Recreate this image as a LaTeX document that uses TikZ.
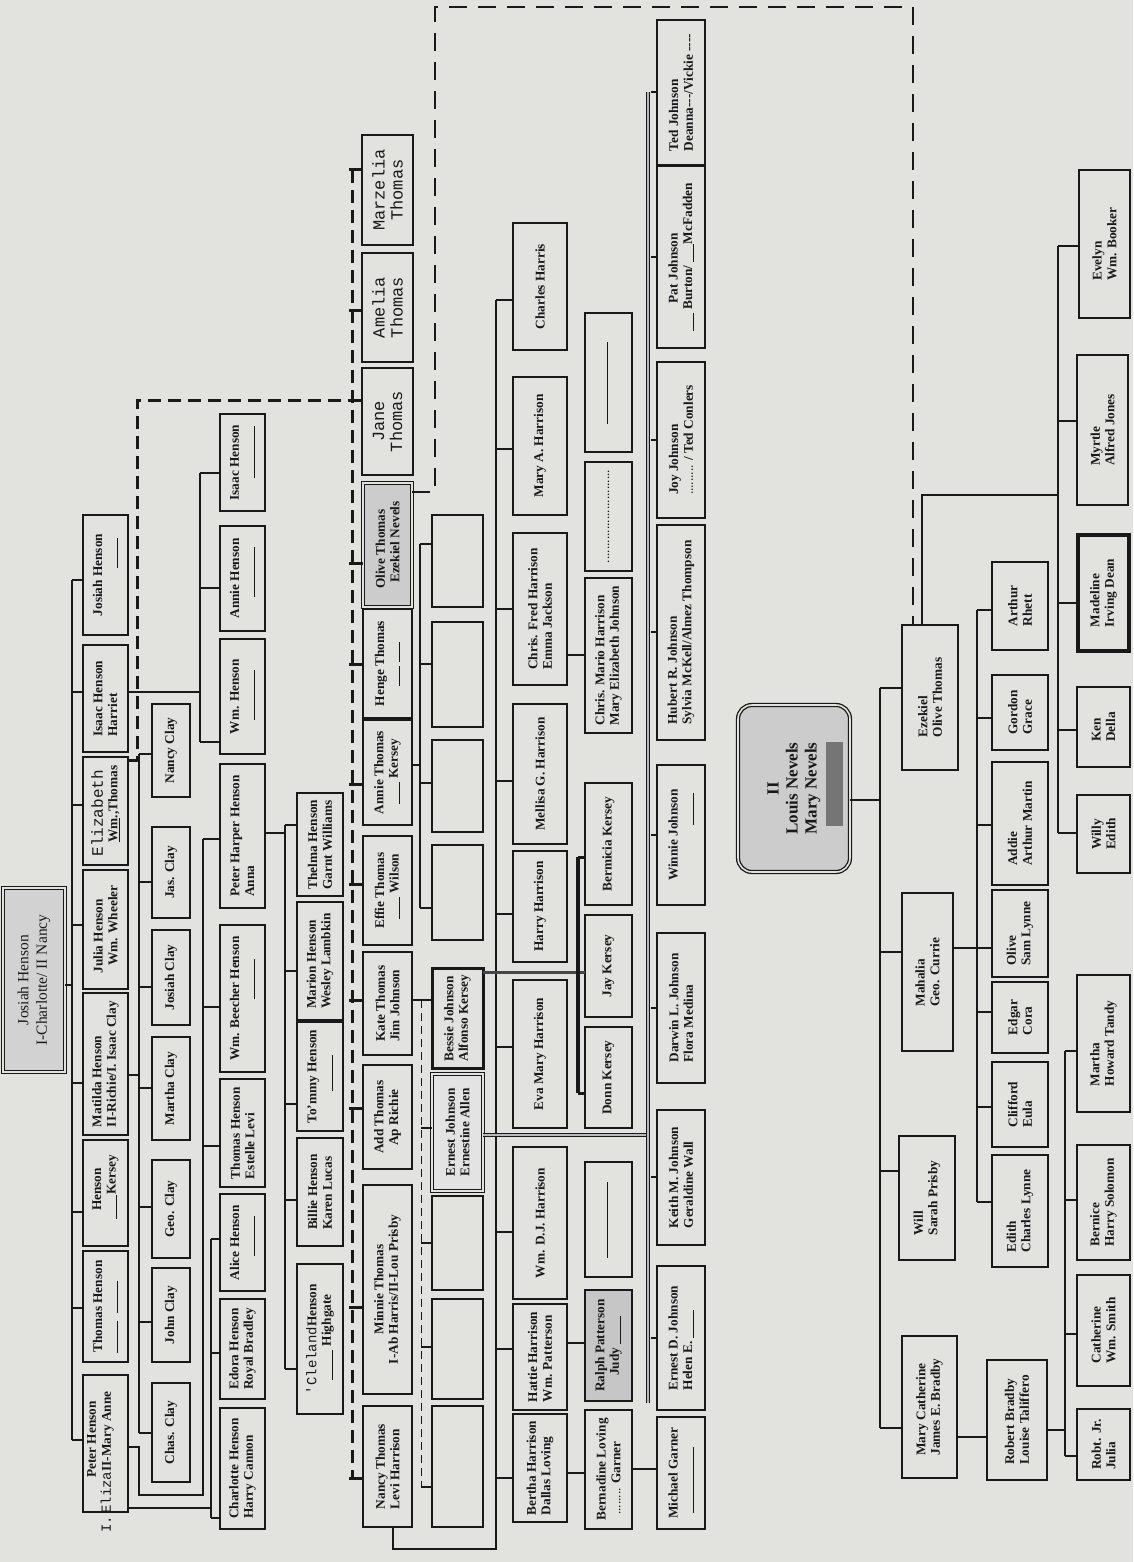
\documentclass[tikz,border=0pt]{standalone}
\usepackage{fontspec}
\setmainfont{Liberation Serif}
\setmonofont{Liberation Mono}
\definecolor{paper}{RGB}{226,227,223}
\definecolor{ink}{RGB}{25,25,25}
\newcommand{\blnk}[1][28pt]{\rule[-1.5pt]{#1}{0.9pt}}
\newcommand{\twr}[2][14]{{\ttfamily\mdseries\fontsize{#1}{#1}\selectfont #2}}
\newcommand{\bx}[7][]{%
  \pgfmathsetmacro{\bxw}{#6-#4}\pgfmathsetmacro{\bxh}{#5-#3}%
  \pgfmathsetmacro{\bxcx}{(#3+#5)/2}\pgfmathsetmacro{\bxcy}{(#4+#6)/2}%
  \node[box,#1,minimum width=\bxw pt,minimum height=\bxh pt] (#2) at (\bxcx,\bxcy) {#7};}
\begin{document}
\begin{tikzpicture}[x=1pt,y=-1pt,
  box/.style={draw=ink, line width=1.2pt, rotate=90, inner sep=1.5pt, outer sep=0pt, align=left, text=ink, font=\fontsize{13.3}{14.6}\selectfont\bfseries},
  ctr/.style={align=center},
  mono/.style={align=center, font=\ttfamily\fontsize{17}{18}\selectfont},
  dblbox/.style={double=paper, double distance=1.6pt, line width=0.9pt},
  heavy/.style={line width=3pt},
  ln/.style={draw=ink, line width=1.1pt},
  thickdash/.style={draw=ink, line width=3pt, dash pattern=on 13pt off 7pt},
  tstub/.style={draw=ink, line width=3pt},
  thindash/.style={draw=ink, line width=1.3pt, dash pattern=on 18pt off 11pt},
  kdash/.style={draw=ink, line width=1pt, dash pattern=on 8pt off 5pt},
  dblline/.style={draw=ink, line width=1.1pt, double=gray!55, double distance=2pt}]
\fill[paper] (0,0) rectangle (1133,1562);
\useasboundingbox (0,0) rectangle (1133,1562);

% ---------- root and generation 1
\bx[dblbox, fill=gray!35, ctr, font=\fontsize{15.5}{18.5}\selectfont]{root}{3}{888}{65}{1072}{Josiah Henson\\I-Charlotte/ II Nancy}
\bx{josiahH}{83}{515}{128}{635}{Josiah Henson\\\hspace*{48pt}\blnk[30pt]}
\bx{isaacH}{83}{645}{128}{752}{Isaac Henson\\Harriet}
\bx{eliz}{83}{757}{128}{865}{\twr[16]{Elizabeth}\\\hspace*{14pt}\underline{Wm}.,Thomas}
\bx{julia}{83}{870}{128}{989}{Julia Henson\\\hspace*{8pt}Wm. Wheeler}
\bx{matilda}{83}{993}{128}{1135}{Matilda Henson\\II-Richie/I. Isaac Clay}
\bx{hensonK}{83}{1140}{128}{1246}{\hspace*{20pt}Henson\\\hspace*{12pt}\blnk[24pt]Kersey}
\bx{thomasH}{83}{1251}{128}{1362}{Thomas Henson\\\blnk[32pt]\hspace*{8pt}\blnk[32pt]}
\bx{peter}{83}{1375}{128}{1512}{}
\node[rotate=90, anchor=north west, align=left, inner sep=0pt, text=ink, font=\fontsize{13.3}{15}\selectfont\bfseries] (petertxt) at (87,1533) {\hspace*{55pt}Peter Henson\\\twr[14]{I.\,Eliza}II-Mary Anne};

% ---------- Clays
\bx[ctr]{chas}{152}{1383}{190}{1482}{Chas. Clay}
\bx[ctr]{john}{152}{1268}{190}{1362}{John Clay}
\bx[ctr]{geo}{152}{1160}{190}{1258}{Geo. Clay}
\bx[ctr]{martha}{152}{1037}{190}{1140}{Martha Clay}
\bx[ctr]{josiahC}{152}{930}{190}{1025}{Josiah Clay}
\bx[ctr]{jas}{152}{827}{190}{918}{Jas. Clay}
\bx[ctr]{nancyC}{152}{704}{190}{797}{Nancy Clay}

% ---------- Hensons gen 2
\bx{charlotte}{220}{1408}{265}{1529}{Charlotte Henson\\Harry Cannon}
\bx{edora}{220}{1299}{265}{1399}{Edora Henson\\Royal Bradley}
\bx{alice}{220}{1194}{265}{1291}{Alice Henson\\\hspace*{24pt}\blnk[40pt]}
\bx{thomasE}{220}{1079}{265}{1187}{Thomas Henson\\Estelle Levi}
\bx{beecher}{220}{925}{265}{1072}{Wm. Beecher Henson\\\hspace*{62pt}\blnk[40pt]}
\bx{pharper}{220}{764}{265}{908}{Peter Harper Henson\\Anna}
\bx{wmH}{220}{639}{265}{754}{Wm. Henson\\\hspace*{14pt}\blnk[50pt]}
\bx{annieH}{220}{526}{265}{631}{Annie Henson\\\hspace*{22pt}\blnk[50pt]}
\bx{isaacHb}{220}{414}{265}{511}{Isaac Henson\\\hspace*{22pt}\blnk[52pt]}

% ---------- Peter Harper's children
\bx{thelma}{297}{793}{343}{896}{Thelma Henson\\Garnt Williams}
\bx{marion}{297}{902}{343}{1020}{Marion Henson\\Wesley Lambkin}
\bx{tommy}{297}{1022}{343}{1131}{To'mmy Henson\\\hspace*{32pt}\blnk[36pt]}
\bx{billie}{297}{1138}{343}{1246}{Billie Henson\\Karen Lucas}
\bx{cleland}{297}{1264}{343}{1414}{\twr[14]{'Cleland}Henson\\\hspace*{14pt}\blnk[30pt]\hspace*{4pt}Highgate}

% ---------- Thomas family
\bx[mono]{marz}{362}{135}{413}{245}{Marzelia\\Thomas}
\bx[mono]{amelia}{362}{253}{413}{362}{Amelia\\Thomas}
\bx[mono]{jane}{362}{368}{413}{475}{Jane\\Thomas}
\bx[dblbox, line width=1.3pt, fill=gray!40]{oliveT}{363}{483}{412}{607}{Olive Thomas\\\hspace*{6pt}Ezekiel Nevels}
\bx{henge}{363}{609}{412}{718}{Henge Thomas\\\hspace*{20pt}\blnk[20pt]\hspace*{4pt}\blnk[20pt]}
\bx{annieT}{363}{720}{412}{825}{Annie Thomas\\\hspace*{10pt}\blnk[22pt] Kersey}
\bx{effie}{363}{836}{412}{945}{Effie Thomas\\\hspace*{10pt}\blnk[22pt] Wilson}
\bx{kate}{363}{952}{412}{1055}{Kate Thomas\\Jim Johnson}
\bx{add}{363}{1065}{412}{1169}{Add Thomas\\\hspace*{8pt}Ap Richie}
\bx[ctr]{minnie}{363}{1185}{412}{1394}{Minnie Thomas\\I-Ab Harris/II-Lou Prisby}
\bx{nancyT}{363}{1406}{412}{1527}{Nancy Thomas\\Levi Harrison}

% ---------- column G
\bx{ea}{432}{515}{483}{607}{}
\bx{eb}{432}{622}{483}{727}{}
\bx{ec}{432}{740}{483}{832}{}
\bx{ed}{432}{845}{483}{940}{}
\bx[heavy]{bessie}{432}{968}{483}{1068}{Bessie Johnson\\Alfonso Kersey}
\bx[dblbox, fill=gray!22]{ernest}{432}{1074}{483}{1191}{Ernest Johnson\\Ernestine Allen}
\bx{ee}{432}{1196}{483}{1290}{}
\bx{ef}{432}{1299}{483}{1399}{}
\bx{eg}{432}{1406}{483}{1527}{}

% ---------- Harrisons
\bx[ctr]{charles}{513}{223}{567}{350}{Charles Harris}
\bx[ctr]{maryA}{513}{377}{567}{515}{Mary A. Harrison}
\bx{chrisF}{513}{533}{567}{685}{Chris. Fred Harrison\\Emma Jackson}
\bx[ctr]{mellisa}{513}{704}{567}{844}{Mellisa G. Harrison}
\bx[ctr]{harry}{513}{851}{567}{962}{Harry Harrison}
\bx[ctr]{eva}{513}{980}{567}{1128}{Eva Mary Harrison}
\bx[ctr]{wmdj}{513}{1147}{567}{1299}{Wm. D.J. Harrison}
\bx{hattie}{513}{1304}{567}{1410}{Hattie Harrison\\Wm. Patterson}
\bx{bertha}{513}{1414}{567}{1522}{Bertha Harrison\\Dallas Loving}

% ---------- column I
\bx[ctr]{blankA}{585}{313}{632}{452}{\rule[2pt]{82pt}{0.9pt}}
\bx[ctr]{dotted}{585}{462}{632}{571}{\mdseries ............................}
\bx{chrisM}{585}{578}{632}{733}{Chris. Mario Harrison\\Mary Elizabeth Johnson}
\bx[ctr]{bermicia}{585}{783}{632}{905}{Bermicia Kersey}
\bx[ctr]{jay}{585}{915}{632}{1017}{Jay Kersey}
\bx[ctr]{donn}{585}{1027}{632}{1128}{Donn Kersey}
\bx[ctr]{blankB}{585}{1162}{632}{1277}{\rule[2pt]{76pt}{0.9pt}}
\bx[fill=gray!45]{ralph}{585}{1290}{632}{1401}{Ralph Patterson\\\hspace*{16pt}Judy \blnk[28pt]}
\bx{bernadine}{585}{1410}{632}{1529}{Bernadine Loving\\\hspace*{6pt}\mdseries........ \bfseries Garner}

% ---------- Johnsons
\bx{ted}{657}{20}{705}{165}{Ted Johnson\\Deanna{-}{-}{-}/Vickie {-}{-}{-}{-}}
\bx{pat}{657}{166}{705}{348}{\hspace*{28pt}Pat Johnson\\\blnk[18pt] Burton/ \blnk[18pt]McFadden}
\bx{joy}{657}{362}{705}{518}{Joy Johnson\\\mdseries ......... \bfseries / Ted Conlers}
\bx{hubert}{657}{525}{705}{740}{Hubert R. Johnson\\Sylvia McKell/Almez Thompson}
\bx{winnie}{657}{765}{705}{905}{Winnie Johnson\\\hspace*{56pt}\blnk[32pt]}
\bx{darwin}{657}{933}{705}{1083}{Darwin L. Johnson\\Flora Medina}
\bx{keith}{657}{1110}{705}{1245}{Keith M. Johnson\\Geraldine Wall}
\bx{ernestD}{657}{1266}{705}{1410}{Ernest D. Johnson\\Helen E. \blnk[28pt]}
\bx{michael}{657}{1417}{705}{1529}{Michael Garner\\\hspace*{6pt}\blnk[66pt]}

% ---------- Nevels tree
\bx[dblbox, rounded corners=14pt, fill=gray!40, line width=1.3pt]{louis}{738}{705}{850}{872}{}
\fill[gray!75!black, opacity=0.8] (826,742) rectangle (843,826);
\node[rotate=90, align=center, text=ink, font=\fontsize{17}{19}\selectfont\bfseries] (louistxt) at (louis.center) {II\\Louis Nevels\\Mary Nevels};
\bx{ezek}{902}{625}{958}{770}{Ezekiel\\Olive Thomas}
\bx{mahalia}{902}{893}{953}{1051}{Mahalia\\Geo. Currie}
\bx{will}{899}{1136}{955}{1260}{Will\\Sarah Prisby}
\bx{maryC}{902}{1336}{957}{1478}{Mary Catherine\\James E. Bradby}
\bx{arthur}{992}{562}{1048}{650}{Arthur\\Rhett}
\bx{gordon}{992}{675}{1048}{750}{Gordon\\Grace}
\bx{addie}{992}{762}{1048}{885}{Addie\\Arthur Martin}
\bx{oliveS}{992}{890}{1048}{977}{Olive\\Sam Lynne}
\bx{edgar}{992}{982}{1048}{1053}{Edgar\\Cora}
\bx{clifford}{992}{1062}{1048}{1147}{Clifford\\Eula}
\bx{edith}{992}{1155}{1048}{1267}{Edith\\Charles Lynne}
\bx{robert}{987}{1360}{1047}{1480}{Robert Bradby\\Louise Taliffero}
\bx{evelyn}{1079}{170}{1130}{318}{Evelyn\\Wm. Booker}
\bx{myrtle}{1077}{355}{1128}{505}{Myrtle\\Alfred Jones}
\bx[line width=4pt]{madeline}{1078}{535}{1129}{651}{Madeline\\Irving Dean}
\bx{ken}{1077}{687}{1130}{767}{Ken\\Della}
\bx{willy}{1077}{795}{1130}{873}{Willy\\Edith}
\bx{marthaT}{1077}{975}{1130}{1112}{Martha\\Howard Tandy}
\bx{bernice}{1077}{1145}{1130}{1260}{Bernice\\Harry Solomon}
\bx{catherine}{1077}{1275}{1130}{1386}{Catherine\\Wm. Smith}
\bx{robtjr}{1077}{1409}{1130}{1480}{Robt. Jr.\\Julia}

% ================= connectors
% root -> generation 1
\draw[ln] (root.south |- 0,985) -- (72,985);
\draw[ln] (72,580) -- (72,1440);
\foreach \n/\y in {josiahH/580,isaacH/692,eliz/805,julia/925,matilda/1083,hensonK/1212,thomasH/1308,peter/1440}
  \draw[ln] (72,\y) -- (\n.north |- 0,\y);
% Matilda -> Clays
\draw[ln] (matilda.south |- 0,1075) -- (139,1075);
\draw[ln] (139,754) -- (139,1433);
\foreach \n/\y in {nancyC/754,jas/882,josiahC/987,martha/1088,geo/1207,john/1322,chas/1433}
  \draw[ln] (139,\y) -- (\n.north |- 0,\y);
% Peter (II) -> Thomas, Beecher, Peter Harper
\draw[ln] (peter.south |- 0,1447) -- (139,1447) -- (139,1495) -- (203,1495) -- (203,839);
\foreach \n/\y in {pharper/839,beecher/1007,thomasE/1146}
  \draw[ln] (203,\y) -- (\n.north |- 0,\y);
% Peter (I) -> Charlotte, Edora, Alice
\draw[ln] (peter.south |- 0,1508) -- (211,1508);
\draw[ln] (211,1239) -- (211,1518);
\foreach \n/\y in {alice/1239,edora/1353,charlotte/1518}
  \draw[ln] (211,\y) -- (\n.north |- 0,\y);
% Isaac / Harriet
\draw[ln] (isaacH.south |- 0,692) -- (200,692);
\draw[ln] (200,473) -- (200,742);
\foreach \n/\y in {isaacHb/473,annieH/588,wmH/742}
  \draw[ln] (200,\y) -- (\n.north |- 0,\y);
% Peter Harper
\draw[ln] (pharper.south |- 0,833) -- (285,833);
\draw[ln] (285,825) -- (285,1369);
\foreach \n/\y in {thelma/825,marion/971,tommy/1104,billie/1200,cleland/1369}
  \draw[ln] (285,\y) -- (\n.north |- 0,\y);
% Elizabeth -> Thomas children (thick dashed)
\draw[thickdash] (eliz.south |- 0,760) -- (137,760) -- (137,400) -- (jane.north |- 0,400);
\draw[thickdash] (352,170) -- (352,1478) -- (nancyT.north |- 0,1478);
\foreach \n/\y in {marz/170,amelia/310,jane/400,oliveT/563,henge/664,annieT/784,effie/884,kate/1000,add/1108,minnie/1307,nancyT/1478}
  \draw[tstub] (349,\y) -- (\n.north |- 0,\y);
% Olive Thomas -> Ezekiel (thin dashed)
\draw[thindash] (oliveT.south |- 0,492) -- (435,492) -- (435,7) -- (913,7) -- (ezek.east -| 913,0);
% Annie Thomas -> empty boxes
\draw[ln] (annieT.south |- 0,765) -- (420,765);
\draw[ln] (420,544) -- (420,908);
\foreach \n/\y in {ea/544,eb/664,ec/783,ed/908}
  \draw[ln] (420,\y) -- (\n.north |- 0,\y);
% Kate -> Bessie, Ernest, empty boxes
\draw[ln] (kate.south |- 0,1000) -- (bessie.north |- 0,1000);
\draw[kdash] (421,1000) -- (421,1487);
\foreach \n/\y in {ernest/1128,ee/1243,ef/1347,eg/1487}
  \draw[ln] (421,\y) -- (\n.north |- 0,\y);
% Nancy -> Harrisons
\draw[ln] (nancyT.west -| 393,0) -- (393,1549) -- (496,1549) -- (496,300);
\foreach \n/\y in {charles/300,maryA/449,chrisF/609,mellisa/781,harry/914,eva/1047,wmdj/1232,hattie/1349,bertha/1478}
  \draw[ln] (496,\y) -- (\n.north |- 0,\y);
% Ernest -> Johnsons
\draw[dblline] (648,92) -- (648,1403);
\draw[dblline] (ernest.south |- 0,1135) -- (646,1135);
\foreach \n/\y in {ted/92,pat/257,joy/440,hubert/632,winnie/835,darwin/1008,keith/1177,ernestD/1338}
  \draw[ln] (651,\y) -- (\n.north |- 0,\y);
% Bessie -> Kerseys
\draw[draw=gray!55!black, line width=3pt] (bessie.south |- 0,972) -- (jay.north |- 0,972);
\draw[draw=ink, line width=3.5pt] (578,857) -- (578,1093);
\draw[tstub] (578,857) -- (bermicia.north |- 0,857);
\draw[tstub] (578,1093) -- (donn.north |- 0,1093);
% single links
\draw[ln] (chrisF.south |- 0,655) -- (chrisM.north |- 0,655);
\draw[draw=ink, line width=2.5pt] (hattie.south |- 0,1343) -- (ralph.north |- 0,1343);
\draw[ln] (bertha.south |- 0,1473) -- (bernadine.north |- 0,1473);
\draw[ln] (bernadine.south |- 0,1469) -- (michael.north |- 0,1469);
% Nevels
\draw[ln] (louis.south |- 0,800) -- (880,800);
\draw[ln] (880,688) -- (880,1428);
\foreach \n/\y in {ezek/688,mahalia/952,will/1171,maryC/1428}
  \draw[ln] (880,\y) -- (\n.north |- 0,\y);
\draw[ln] (ezek.east -| 922,0) -- (922,495) -- (1058,495);
\draw[ln] (1058,246) -- (1058,833);
\foreach \n/\y in {evelyn/246,myrtle/421,madeline/603,ken/730,willy/833}
  \draw[ln] (1058,\y) -- (\n.north |- 0,\y);
\draw[ln] (mahalia.south |- 0,948) -- (977,948);
\draw[ln] (977,610) -- (977,1202);
\foreach \n/\y in {arthur/610,gordon/718,addie/825,oliveS/948,edgar/1012,clifford/1107,edith/1202}
  \draw[ln] (977,\y) -- (\n.north |- 0,\y);
\draw[ln] (maryC.south |- 0,1437) -- (robert.north |- 0,1437);
\draw[ln] (robert.south |- 0,1430) -- (1065,1430);
\draw[ln] (1065,1051) -- (1065,1456);
\foreach \n/\y in {marthaT/1051,bernice/1200,catherine/1334,robtjr/1456}
  \draw[ln] (1065,\y) -- (\n.north |- 0,\y);
\end{tikzpicture}
\end{document}
